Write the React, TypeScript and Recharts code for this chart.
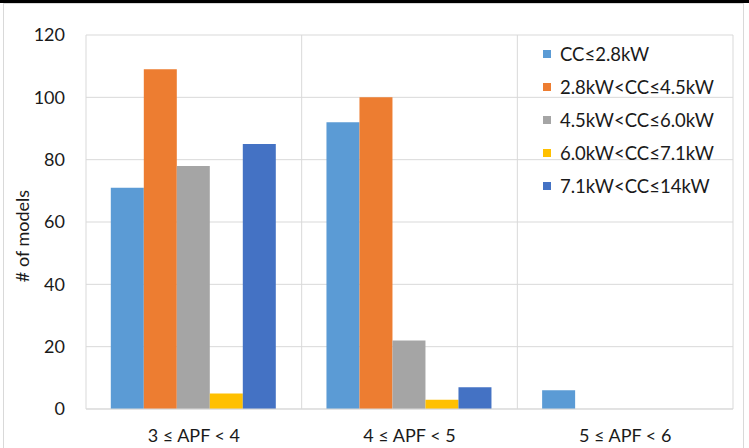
import { Bar, BarChart, CartesianGrid, XAxis, YAxis } from "recharts";

const categories = ["3 ≤ APF < 4", "4 ≤ APF < 5", "5 ≤ APF < 6"];
const seriesNames = [
  "CC≤2.8kW",
  "2.8kW<CC≤4.5kW",
  "4.5kW<CC≤6.0kW",
  "6.0kW<CC≤7.1kW",
  "7.1kW<CC≤14kW",
];
const seriesColors = ["#5B9BD5", "#ED7D31", "#A5A5A5", "#FFC000", "#4472C4"];
const upTo28 = [71, 92, 6];
const from28To45 = [109, 100, 0];
const from45To60 = [78, 22, 0];
const from60To71 = [5, 3, 0];
const from71To14 = [85, 7, 0];
const yTicks = [0, 20, 40, 60, 80, 100, 120];

const seriesValues = [upTo28, from28To45, from45To60, from60To71, from71To14];

const data = categories.map((name, i) => {
  const row: Record<string, string | number> = { name };
  seriesNames.forEach((s, j) => {
    row[s] = seriesValues[j][i];
  });
  return row;
});

const font = "Lato, 'Noto Sans', sans-serif";
const textColor = "#1a1a1a";

// legend sits over the top-right of the plot, so it is drawn outside the chart layout
function LegendBox() {
  return (
    <div
      style={{
        position: "absolute",
        left: 543,
        top: 37,
        fontFamily: font,
        fontSize: 18.5,
        color: textColor,
      }}
    >
      {seriesNames.map((s, i) => (
        <div key={s} style={{ display: "flex", alignItems: "center", height: 33 }}>
          <span
            style={{
              width: 8,
              height: 8,
              background: seriesColors[i],
              marginRight: 9,
              display: "inline-block",
            }}
          />
          {s}
        </div>
      ))}
    </div>
  );
}

export default function App() {
  return (
    <div
      style={{
        position: "absolute",
        left: 0,
        top: 0,
        width: 749,
        height: 448,
        background: "#fff",
        overflow: "hidden",
      }}
    >
      <div style={{ position: "absolute", left: 0, top: 0, width: 749, height: 3, background: "#000" }} />
      <div
        style={{
          position: "absolute",
          left: 3,
          top: 3,
          width: 741,
          height: 450,
          border: "1px solid #d9d9d9",
          boxSizing: "border-box",
        }}
      />
      <BarChart
        width={749}
        height={448}
        data={data}
        margin={{ top: 35, right: 16, bottom: 0, left: 0 }}
        barCategoryGap="11.5%"
        barGap={0}
        style={{ position: "absolute", left: 0, top: 0 }}
      >
        <CartesianGrid
          stroke="#d9d9d9"
          verticalCoordinatesGenerator={({ offset }: any) => [
            offset.left,
            offset.left + offset.width / 3,
            offset.left + (offset.width * 2) / 3,
            offset.left + offset.width,
          ]}
        />
        <XAxis
          dataKey="name"
          height={39}
          tickLine={false}
          tickSize={0}
          tickMargin={20}
          axisLine={{ stroke: "#d9d9d9" }}
          tick={{ fill: textColor, fontSize: 18, fontFamily: font }}
        />
        <YAxis
          width={86}
          domain={[0, 120]}
          ticks={yTicks}
          axisLine={false}
          tickLine={false}
          tickSize={0}
          tickMargin={21}
          tick={{ fill: textColor, fontSize: 18, fontFamily: font }}
          label={{
            content: () => (
              <text
                x={22}
                y={236}
                transform="rotate(-90 22 236)"
                textAnchor="middle"
                dominantBaseline="central"
                fill={textColor}
                fontSize={18}
                fontFamily={font}
              >
                # of models
              </text>
            ),
          }}
        />
        {seriesNames.map((s, i) => (
          <Bar key={s} dataKey={s} fill={seriesColors[i]} isAnimationActive={false} />
        ))}
      </BarChart>
      <LegendBox />
    </div>
  );
}
